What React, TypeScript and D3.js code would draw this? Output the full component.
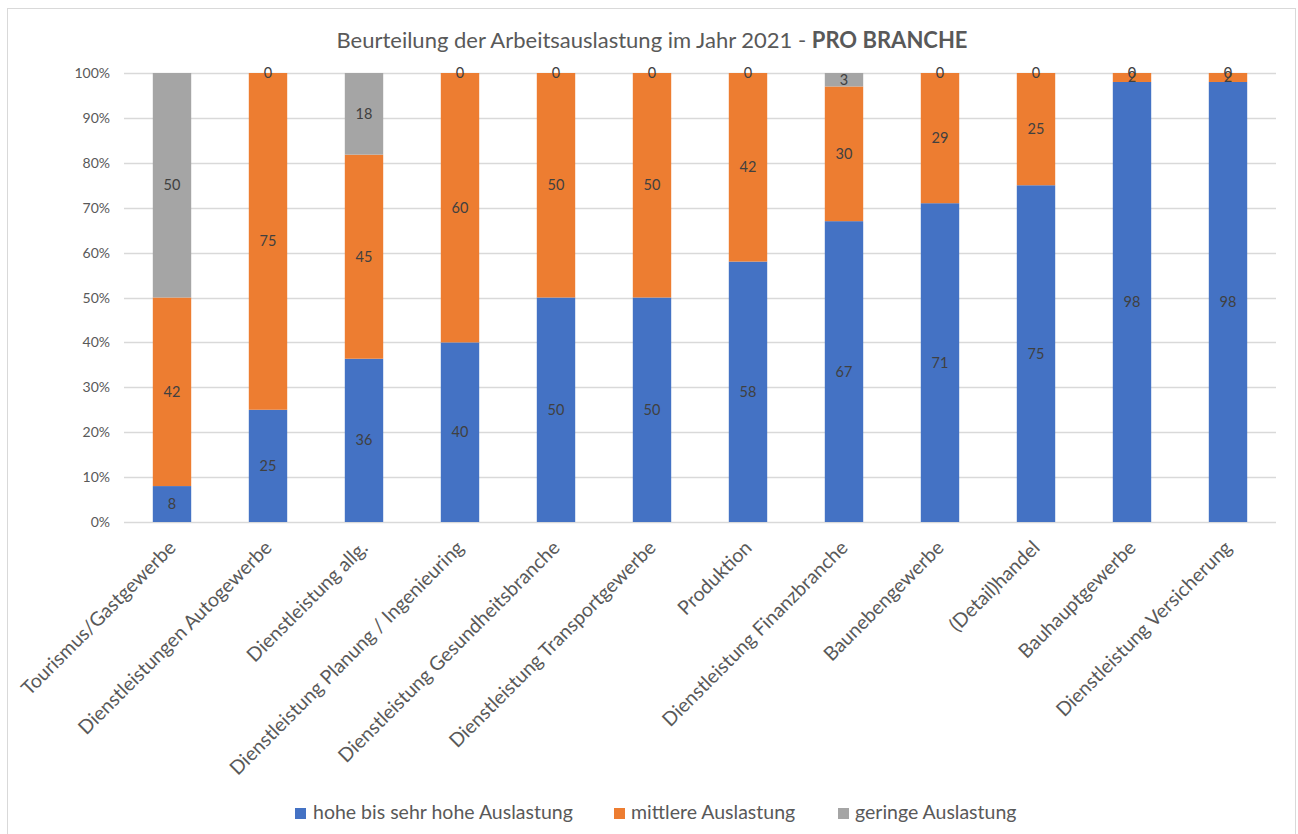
import React from "react";
import * as d3 from "d3";

const categories = [
  "Tourismus/Gastgewerbe",
  "Dienstleistungen Autogewerbe",
  "Dienstleistung allg.",
  "Dienstleistung Planung / Ingenieuring",
  "Dienstleistung Gesundheitsbranche",
  "Dienstleistung Transportgewerbe",
  "Produktion",
  "Dienstleistung Finanzbranche",
  "Baunebengewerbe",
  "(Detail)handel",
  "Bauhauptgewerbe",
  "Dienstleistung Versicherung",
];

const hoheValues = [8, 25, 36.36, 40, 50, 50, 58, 67, 71, 75, 98, 98];
const mittlereValues = [42, 75, 45.45, 60, 50, 50, 42, 30, 29, 25, 2, 2];
const geringeValues = [50, 0, 18.18, 0, 0, 0, 0, 3, 0, 0, 0, 0];

const seriesNames = ["hohe bis sehr hohe Auslastung", "mittlere Auslastung", "geringe Auslastung"];
const seriesColors = ["#4472C4", "#ED7D31", "#A5A5A5"];
const yTicks = [0, 0.1, 0.2, 0.3, 0.4, 0.5, 0.6, 0.7, 0.8, 0.9, 1.0];

const FONT = "Lato, 'Open Sans', sans-serif";

export default function App() {
  const W = 1298, H = 834;
  const x = d3.scaleBand<string>().domain(categories).range([124, 1276]).paddingInner(0.6).paddingOuter(0.3);
  const y = d3.scaleLinear().domain([0, 1]).range([522, 73]);

  const table = categories.map((c, i) => ({
    cat: c,
    s0: hoheValues[i],
    s1: mittlereValues[i],
    s2: geringeValues[i],
  }));
  const stack = d3.stack<any>().keys(["s0", "s1", "s2"]).offset(d3.stackOffsetExpand);
  const layers = stack(table);

  const legendItems = [
    { x: 295, textX: 313 },
    { x: 614, textX: 631 },
    { x: 838, textX: 855 },
  ];

  return (
    <svg width={W} height={H} style={{ position: "absolute", left: 0, top: 0, background: "#fff" }} fontFamily={FONT}>
      <rect x={0} y={0} width={W} height={H} fill="#fff" />
      <rect x={7.5} y={8.5} width={1288} height={840} fill="#fff" stroke="#d9d9d9" strokeWidth={1} />
      <text x={652} y={48} textAnchor="middle" fontSize={22} fill="#595959">
        Beurteilung der Arbeitsauslastung im Jahr 2021 - <tspan fontWeight="bold">PRO BRANCHE</tspan>
      </text>
      {yTicks.map((t) => (
        <g key={t}>
          <line x1={124} x2={1276} y1={Math.round(y(t)) + 0.5} y2={Math.round(y(t)) + 0.5} stroke="#d9d9d9" strokeWidth={1.3} />
          <text x={110} y={y(t) + 5} textAnchor="end" fontSize={14} fill="#595959">
            {d3.format(".0%")(t)}
          </text>
        </g>
      ))}
      {layers.map((layer, si) => (
        <g key={si}>
          {layer.map((d, i) => {
            const x0 = x(categories[i])!;
            const y0 = y(d[0]);
            const y1 = y(d[1]);
            return <rect key={i} x={x0} y={y1} width={x.bandwidth()} height={Math.max(0, y0 - y1)} fill={seriesColors[si]} />;
          })}
        </g>
      ))}
      {layers.map((layer, si) => (
        <g key={"l" + si}>
          {layer.map((d, i) => {
            const cx = x(categories[i])! + x.bandwidth() / 2;
            const cy = (y(d[0]) + y(d[1])) / 2;
            const v = [hoheValues, mittlereValues, geringeValues][si][i];
            return (
              <text key={i} x={cx} y={cy + 5} textAnchor="middle" fontSize={14.5} fill="#404040">
                {Math.round(v)}
              </text>
            );
          })}
        </g>
      ))}
      {categories.map((c) => {
        const cx = x(c)! + x.bandwidth() / 2;
        return (
          <text key={c} transform={`translate(${cx + 5},${549}) rotate(-45)`} textAnchor="end" fontSize={19.5} fill="#595959">
            {c}
          </text>
        );
      })}
      {seriesNames.map((n, i) => (
        <g key={n}>
          <rect x={legendItems[i].x} y={808} width={11} height={11} fill={seriesColors[i]} />
          <text x={legendItems[i].textX} y={819} fontSize={19.5} fill="#595959">
            {n}
          </text>
        </g>
      ))}
    </svg>
  );
}
